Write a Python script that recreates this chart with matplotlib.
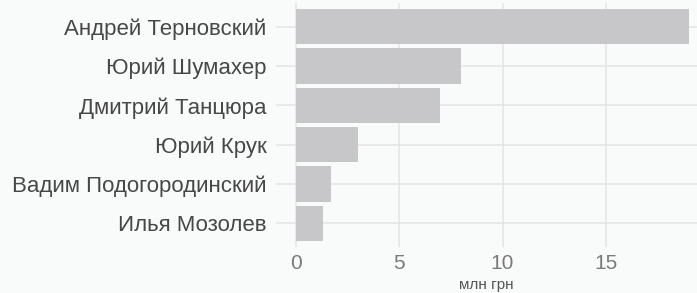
import matplotlib
matplotlib.use("Agg")
import matplotlib.pyplot as plt

# names listed top to bottom
names = ["Андрей Терновский", "Юрий Шумахер", "Дмитрий Танцюра",
         "Юрий Крук", "Вадим Подогородинский", "Илья Мозолев"]
values = [19.0, 8.0, 7.0, 3.0, 1.7, 1.3]
xticks = [0, 5, 10, 15]

plt.rcParams['font.family'] = ['Liberation Sans', 'DejaVu Sans']

bg = "#f9fafa"
fig = plt.figure(figsize=(6.97, 2.93), dpi=100, facecolor=bg)
ax = fig.add_axes([276 / 697, 1 - 247 / 293, (697 - 276) / 697, 244 / 293])
ax.set_facecolor(bg)

ypos = list(range(len(names)))[::-1]
ax.barh(ypos, values, height=0.9, color="#c7c7c9", zorder=2)

ax.set_xlim(-0.95, 19.4)
ax.set_ylim(-0.6, len(names) - 0.4)
ax.set_xticks(xticks)
ax.set_yticks(ypos)
ax.set_yticklabels(names)
ax.grid(True, color="#e6e6e6", linewidth=1.2, zorder=0)
for s in ax.spines.values():
    s.set_visible(False)
ax.tick_params(axis="y", length=0, pad=7, labelsize=16, labelcolor="#474747")
ax.tick_params(axis="x", length=0, pad=5, labelsize=15, labelcolor="#7a7a7a")
ax.set_xlabel("млн грн", fontsize=11, color="#555555", labelpad=4)

fig.savefig("out.png", dpi=100, facecolor=bg)
